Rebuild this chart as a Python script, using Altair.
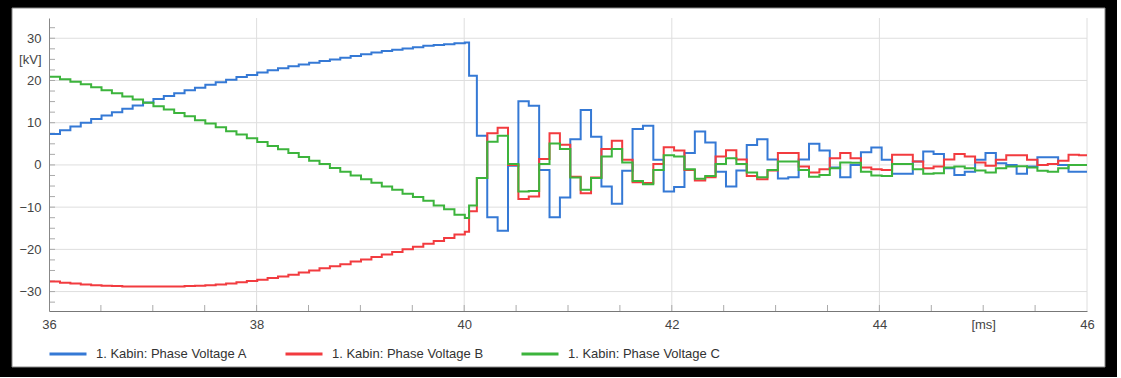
import altair as alt
import pandas as pd

series_names = ["1. Kabin: Phase Voltage A", "1. Kabin: Phase Voltage B", "1. Kabin: Phase Voltage C"]
series_colors = ["#3579d5", "#f23b3f", "#3cb43c"]

# sample clock [ms]
t_pre = [36.0] + [round(36.006 + 0.1 * k, 3) for k in range(1, 41)]
t_fault = [40.047]
t_post = [round(40.022 + 0.1 * k, 3) for k in range(1, 60)]
t_end = [46.0]
times = t_pre + t_fault + t_post + t_end

# Phase A [kV]
va_pre = [7.3, 8.2, 9.1, 10.0, 10.9, 11.7, 12.5, 13.3, 14.1, 14.8, 15.6, 16.3, 17.0, 17.7,
          18.3, 19.0, 19.6, 20.2, 20.8, 21.3, 21.9, 22.4, 22.9, 23.4, 23.8, 24.2, 24.6, 25.0,
          25.4, 25.8, 26.2, 26.6, 27.0, 27.3, 27.6, 27.9, 28.2, 28.4, 28.6, 28.8, 29.0]
va_post = [21.1, 6.9, -12.4, -15.6, -0.2, 15.1, 14.0, -1.2, -12.4, -7.7,
           6.1, 13.0, 6.7, -5.1, -9.2, -1.4, 8.5, 9.3, 1.2, -6.3,
           -5.2, 2.8, 7.9, 5.3, -1.6, -5.1, -1.3, 4.7, 6.1, 1.3,
           -3.2, -2.9, 1.3, 5.0, 3.4, -0.6, -2.9, 0.0, 3.0, 4.1,
           1.2, -2.1, -2.1, 0.8, 3.2, 2.6, -0.8, -2.4, -1.6, 1.2,
           2.8, 0.4, 0.0, -2.1, -0.4, 1.8, 1.8, 0.0, -1.6, -1.6]

# Phase B [kV]
vb_pre = [-27.6, -27.9, -28.1, -28.3, -28.5, -28.6, -28.7, -28.8, -28.8, -28.8, -28.8, -28.8,
          -28.8, -28.7, -28.6, -28.5, -28.3, -28.1, -27.8, -27.5, -27.2, -26.8, -26.4, -26.0,
          -25.5, -25.0, -24.5, -24.0, -23.5, -22.9, -22.4, -21.8, -21.2, -20.6, -20.0, -19.4,
          -18.7, -18.0, -17.3, -16.5, -15.8]
vb_post = [-11.0, -3.1, 7.5, 8.8, 0.0, -8.1, -7.5, 1.4, 7.5, 4.8,
           -2.8, -6.7, -3.0, 3.8, 5.7, 1.2, -4.1, -4.3, 0.2, 4.2,
           3.4, -1.2, -3.7, -2.9, 2.0, 3.5, 1.3, -2.6, -3.4, -1.3,
           2.8, 2.8, -0.4, -1.8, -1.0, 1.6, 2.8, 1.6, -0.6, -1.0,
           -1.2, 2.4, 2.4, 0.8, -0.8, -0.4, 1.3, 2.6, 2.0, 0.6,
           -0.2, 1.2, 2.3, 2.3, 1.2, 0.0, 0.2, 1.0, 2.4, 2.3]

# Phase C [kV]
vc_pre = [20.9, 20.3, 19.7, 19.1, 18.4, 17.7, 17.0, 16.2, 15.5, 14.7, 13.9, 13.1, 12.3, 11.5,
          10.6, 9.8, 8.9, 8.0, 7.2, 6.3, 5.4, 4.5, 3.7, 2.8, 1.9, 1.0, 0.2, -0.7, -1.6, -2.5,
          -3.4, -4.2, -5.1, -5.9, -6.8, -7.6, -8.5, -9.6, -10.5, -11.8, -12.6]
vc_post = [-9.6, -3.1, 5.5, 6.9, 0.2, -6.3, -6.2, 0.2, 5.1, 3.8,
           -3.0, -5.9, -3.1, 2.0, 3.8, 0.6, -3.8, -4.6, -1.2, 2.3,
           2.0, -1.0, -3.3, -2.6, 0.2, 1.6, 0.2, -1.8, -2.9, -1.2,
           0.8, 0.8, -1.2, -2.8, -2.4, -0.8, 0.6, 0.5, -1.6, -2.5,
           -2.6, 0.2, 0.2, -1.0, -2.1, -2.0, -0.6, -0.4, -0.8, -1.3,
           -1.8, -0.8, -0.4, -0.3, -0.6, -1.4, -1.6, -0.8, 0.0, 0.0]

x_grid = [38, 40, 42, 44, 46]
y_grid = [-30, -20, -10, 0, 10, 20, 30]
x_minor = [36.5 + 0.5 * k for k in range(19)]
y_minor = [-32.5 + 2.5 * k for k in range(27)]
x_labels = [36, 38, 40, 42, 44, 45, 46]
y_labels = [-30, -20, -10, 0, 10, 20, 25, 30]

rows = []
for name, pre, post in [(series_names[0], va_pre, va_post),
                        (series_names[1], vb_pre, vb_post),
                        (series_names[2], vc_pre, vc_post)]:
    vals = pre + post + [post[-1]]
    for t, v in zip(times, vals):
        rows.append({"series": name, "t": t, "v": v})
df = pd.DataFrame(rows)

W, H = 1038, 293
xscale = alt.Scale(domain=[36, 46], nice=False, zero=False)
yscale = alt.Scale(domain=[-34.6, 34.8], nice=False, zero=False)

x_axis = alt.Axis(values=x_labels, labelExpr="datum.value == 45 ? '[ms]' : datum.label",
                  ticks=False, grid=False, domainColor="#777777", labelFlush=False,
                  labelOverlap=False, labelPadding=7, title=None, zindex=2,
                  labelFontSize=13, labelColor="#444444")
y_axis = alt.Axis(values=y_labels, labelExpr="datum.value == 25 ? '[kV]' : datum.label",
                  ticks=False, grid=False, domainColor="#888888", labelOverlap=False,
                  labelPadding=8, title=None, zindex=2,
                  labelFontSize=13, labelColor="#444444")

X = lambda: alt.X("t:Q", scale=xscale, title=None, axis=x_axis)
Y = lambda: alt.Y("v:Q", scale=yscale, title=None, axis=y_axis)

frame = alt.Chart(pd.DataFrame({"a": [0]})).mark_rect(fill="#000000").encode(
    x=alt.value(-49), x2=alt.value(1068), y=alt.value(-18), y2=alt.value(359))

bg = alt.Chart(pd.DataFrame({"a": [0]})).mark_rect(
    fill="white", stroke="#888888", strokeWidth=1
).encode(x=alt.value(-37), x2=alt.value(1056), y=alt.value(-10), y2=alt.value(349))

hgrid = alt.Chart(pd.DataFrame({"v": y_grid})).mark_rule(color="#dedede", strokeWidth=1).encode(
    y=Y(), x=alt.value(0), x2=alt.value(W))
vgrid = alt.Chart(pd.DataFrame({"t": x_grid})).mark_rule(color="#dedede", strokeWidth=1).encode(
    x=X(), y=alt.value(0), y2=alt.value(H))
xticks = alt.Chart(pd.DataFrame({"t": x_minor})).mark_rule(color="#aaaaaa", strokeWidth=1).encode(
    x=X(), y=alt.value(H), y2=alt.value(H - 6))
yticks = alt.Chart(pd.DataFrame({"v": y_minor})).mark_rule(color="#aaaaaa", strokeWidth=1).encode(
    y=Y(), x=alt.value(0), x2=alt.value(6))

lines = alt.Chart(df).mark_line(interpolate="step-after", strokeWidth=2, clip=True).encode(
    x=X(),
    y=Y(),
    color=alt.Color("series:N", scale=alt.Scale(domain=series_names, range=series_colors),
                    legend=alt.Legend(orient="none", legendX=-1, legendY=316, direction="horizontal",
                                      title=None, symbolType="stroke", symbolSize=1369,
                                      symbolStrokeWidth=3, labelFontSize=13, labelColor="#333333",
                                      labelOffset=8, columnPadding=31, labelLimit=300, zindex=2)),
)

chart = alt.layer(frame, bg, hgrid, vgrid, xticks, yticks, lines).properties(
    width=W, height=H,
    padding={"left": 49, "top": 18, "right": 34, "bottom": 67},
    autosize=alt.AutoSizeParams(type="none"),
).configure(font="Liberation Sans", background="#ffffff").configure_view(stroke=None)

chart.save("out.html", embed_options={"renderer": "svg", "actions": False})
